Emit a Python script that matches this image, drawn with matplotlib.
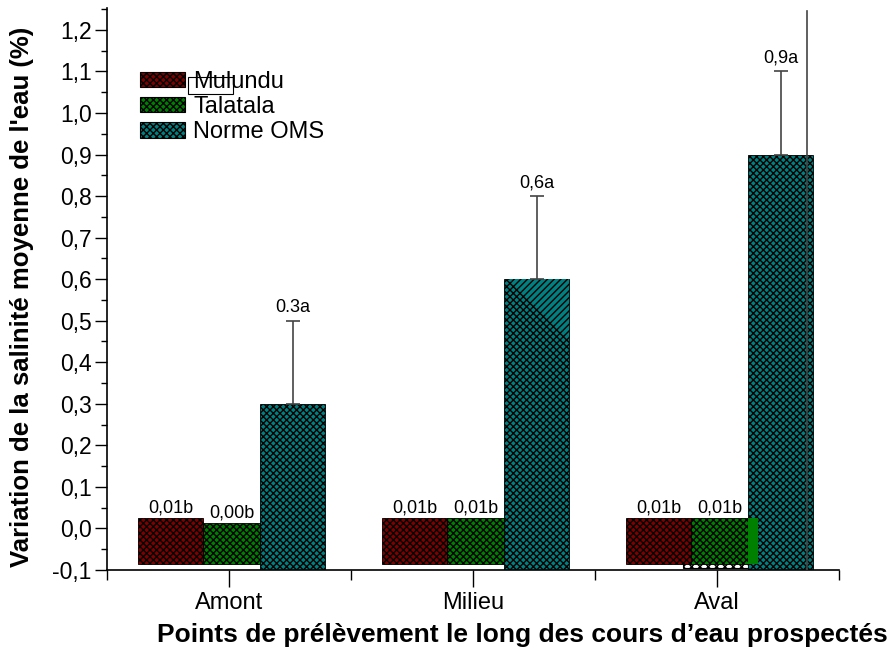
import numpy as np
import matplotlib
matplotlib.use("Agg")
import matplotlib.pyplot as plt
from matplotlib.patches import Rectangle, Polygon, Patch
from matplotlib.ticker import MultipleLocator, FixedLocator

plt.rcParams['font.family'] = ['Liberation Sans', 'DejaVu Sans']
plt.rcParams['hatch.linewidth'] = 1.0

# data
sites = ["Amont", "Milieu", "Aval"]
series = ["Mulundu", "Talatala", "Norme OMS"]
mulundu = [0.024, 0.024, 0.024]
talatala = [0.013, 0.024, 0.024]
norme = [0.30, 0.60, 0.90]
norme_err_top = [0.50, 0.80, 1.10]
mulundu_labels = ["0,01b", "0,01b", "0,01b"]
talatala_labels = ["0,00b", "0,01b", "0,01b"]
norme_labels = ["0.3a", "0,6a", "0,9a"]

colors = ["#800000", "#008000", "#008080"]
small_bottom = -0.085
axis_bottom = -0.1
HATCH = "xxxxx"

fig = plt.figure(figsize=(8.94, 6.53), dpi=100)
ax = fig.add_axes([0.1197, 0.1271, 0.8188, 0.8609])

x = np.arange(len(sites))
# bar edges relative to category centre
left = [-0.374, -0.105, 0.126]
width = [0.269, 0.231, 0.269]

ax.set_xlim(-0.5, 2.5)
ax.set_ylim(-0.1, 1.253)

# stray hatched box under the Aval pair
ax.add_patch(Rectangle((2 - 0.14, -0.095), 0.27, 0.107, facecolor="white",
                       edgecolor="black", hatch="xxxx", lw=0.8, zorder=1))

ax.bar(x + left[0], np.array(mulundu) - small_bottom, width[0], bottom=small_bottom,
       align="edge", color=colors[0], edgecolor="black", hatch=HATCH, lw=0.6, zorder=2)
ax.bar(x + left[1], np.array(talatala) - small_bottom, width[1], bottom=small_bottom,
       align="edge", color=colors[1], edgecolor="black", hatch=HATCH, lw=0.6, zorder=2)
ax.bar(x + left[2], np.array(norme) - axis_bottom, width[2], bottom=axis_bottom,
       align="edge", color=colors[2], edgecolor="black", hatch=HATCH, lw=0.6, zorder=2)

# error bars on the WHO norm (upper side only)
xe = x + left[2] + width[2] / 2
ax.errorbar(xe, norme, yerr=[np.zeros(3), np.array(norme_err_top) - np.array(norme)],
            fmt="none", ecolor="#444444", elinewidth=1.2, capsize=5, capthick=1.2, zorder=3)

# diagonal-hatched corner on the Milieu norm bar
tl = 1 + left[2]
tr = tl + width[2]
ax.add_patch(Polygon([(tl + 0.02, norme[1]), (tr, norme[1]), (tr, norme[1] - 0.14)],
                     closed=True, facecolor=colors[2], edgecolor="black", hatch="/////",
                     lw=0, zorder=2.5))

# green strip and long line at Aval
ax.add_patch(Rectangle((2 + left[2], small_bottom), 0.041, talatala[2] - small_bottom,
                       facecolor=colors[1], edgecolor="none", zorder=2.6))
ax.plot([2.37, 2.37], [axis_bottom, 1.245], color="#444444", lw=1.2, zorder=3)

for i in range(3):
    ax.text(x[i] + left[0] + width[0] / 2, mulundu[i] + 0.004, mulundu_labels[i],
            ha="center", va="bottom", fontsize=13, zorder=4)
    ax.text(x[i] + left[1] + width[1] / 2, talatala[i] + 0.004, talatala_labels[i],
            ha="center", va="bottom", fontsize=13, zorder=4)
    ax.text(xe[i], norme_err_top[i] + 0.012, norme_labels[i],
            ha="center", va="bottom", fontsize=13, zorder=4)

# axes styling
for s in ["top", "right"]:
    ax.spines[s].set_visible(False)
ax.spines["left"].set_linewidth(1.2)
ax.spines["bottom"].set_linewidth(1.2)

ax.yaxis.set_major_locator(MultipleLocator(0.1))
ax.yaxis.set_minor_locator(MultipleLocator(0.05))
ax.yaxis.set_major_formatter(lambda v, p: f"{v:.1f}".replace(".", ",").replace("-0,0", "0,0"))
ax.tick_params(axis="y", which="major", length=9, width=1, labelsize=16.5, pad=2)
ax.tick_params(axis="y", which="minor", length=4, width=1)

ax.xaxis.set_major_locator(FixedLocator(x))
ax.xaxis.set_minor_locator(FixedLocator([-0.5, 0.5, 1.5, 2.5]))
ax.set_xticklabels(sites)
ax.tick_params(axis="x", which="major", length=12, width=1, labelsize=17, pad=4)
ax.tick_params(axis="x", which="minor", length=7, width=1)

fig.text(22 / 894, 1 - 297 / 653, "Variation de la salinité moyenne de l'eau (%)",
         rotation=90, ha="center", va="center", fontsize=18.5, fontweight="bold")
fig.text(522 / 894, 1 - 635 / 653, "Points de prélèvement le long des cours d\u2019eau prospectés",
         ha="center", va="center", fontsize=19, fontweight="bold")

handles = [Patch(facecolor=c, edgecolor="black", hatch=HATCH, lw=0.8) for c in colors]
ax.legend(handles, series, loc="upper left", bbox_to_anchor=(0.045, 0.888), frameon=False,
          fontsize=17, handlelength=1.9, handleheight=0.65, labelspacing=0.13,
          handletextpad=0.35, borderaxespad=0, borderpad=0)

# stray outline box over the legend
fig.add_artist(Rectangle((188 / 894, 1 - 94 / 653), 45 / 894, 17 / 653,
                         transform=fig.transFigure, fill=False, edgecolor="black", lw=0.8))

fig.savefig("out.png", dpi=100)
